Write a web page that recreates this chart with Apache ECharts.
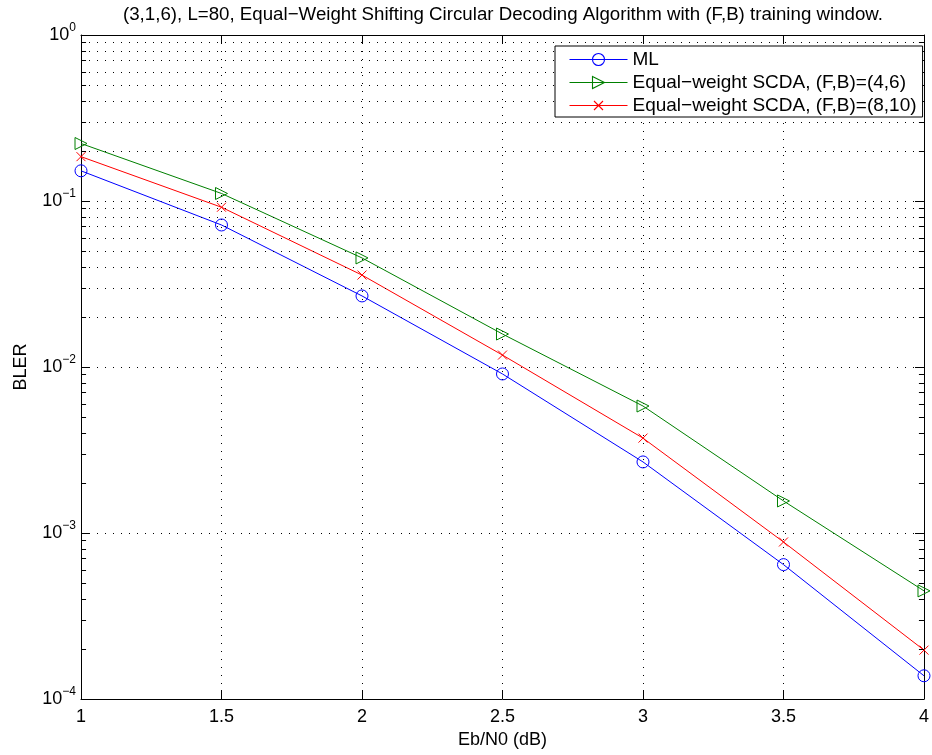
<!DOCTYPE html>
<html>
<head>
<meta charset="utf-8">
<script src="https://cdn.jsdelivr.net/npm/echarts@6/dist/echarts.min.js"></script>
<style>
    html, body { margin: 0; padding: 0; background: #fff; }
    #chart { width: 932px; height: 755px; }
</style>
</head>
<body>
<div id="chart"></div>
<script>
const FONT = '"Liberation Sans", Arial, Helvetica, sans-serif'

const ebN0 = [1, 1.5, 2, 2.5, 3, 3.5, 4]
const blerML = [0.152, 0.0717, 0.0268, 0.00908, 0.00268, 0.000645, 0.000138]
const blerSCDA46 = [0.222, 0.111, 0.0454, 0.0158, 0.00582, 0.00156, 0.000448]
const blerSCDA810 = [0.185, 0.0917, 0.0358, 0.0118, 0.00373, 0.000883, 0.000197]

const seriesNames = [
    'ML',
    'Equal\u2212weight SCDA, (F,B)=(4,6)',
    'Equal\u2212weight SCDA, (F,B)=(8,10)',
]
const seriesColors = ['#0000ff', '#008000', '#ff0000']

const yTickValues = [1e-4, 1e-3, 1e-2, 1e-1, 1]
const yTickExponents = ['\u22124', '\u22123', '\u22122', '\u22121', '0']
const yMinorTicks = [
    2e-4, 3e-4, 4e-4, 5e-4, 6e-4, 7e-4, 8e-4, 9e-4,
    2e-3, 3e-3, 4e-3, 5e-3, 6e-3, 7e-3, 8e-3, 9e-3,
    2e-2, 3e-2, 4e-2, 5e-2, 6e-2, 7e-2, 8e-2, 9e-2,
    2e-1, 3e-1, 4e-1, 5e-1, 6e-1, 7e-1, 8e-1, 9e-1,
]

// legend icons: line with the marker in the middle, 58 x 12 box
const legendIcons = [
    'path://M0,6L58,6M35,6A6,6,0,1,1,23,6A6,6,0,1,1,35,6',
    'path://M0,6L58,6M23,0L35,6L23,12Z',
    'path://M29,0L29,0M29,12L29,12M0,6L58,6M24.5,1.5L33.5,10.5M33.5,1.5L24.5,10.5',
]

const dotted = { color: '#000', width: 1, type: [1, 7] }
const solidBlack = { color: '#000', width: 1 }

const pairs = values => ebN0.map((x, i) => [x, values[i]])

const yLabel = value => {
    const i = yTickValues.findIndex(t => Math.abs(Math.log10(t) - Math.log10(value)) < 1e-6)
    return i < 0 ? '' : `{b|10}{s|${yTickExponents[i]}}`
}

const chart = echarts.init(document.getElementById('chart'))

chart.setOption({
    animation: false,
    backgroundColor: '#fff',
    textStyle: { fontFamily: FONT },
    title: {
        text: '(3,1,6), L=80, Equal\u2212Weight Shifting Circular Decoding Algorithm with (F,B) training window.',
        left: 123,
        top: 5,
        padding: 0,
        textStyle: { fontFamily: FONT, fontSize: 18.7, fontWeight: 'normal', color: '#000' },
    },
    grid: { left: 81, right: 8, top: 35, bottom: 56, containLabel: false },
    legend: {
        orient: 'vertical',
        left: 555,
        top: 46,
        z: 20,
        padding: [4, 6, 2, 12],
        itemGap: 4,
        itemWidth: 58,
        itemHeight: 12,
        symbolKeepAspect: true,
        borderColor: '#000',
        borderWidth: 1,
        borderRadius: 0,
        backgroundColor: '#fff',
        textStyle: { fontFamily: FONT, fontSize: 19, color: '#000', lineHeight: 19 },
        data: seriesNames.map((name, i) => ({
            name,
            icon: legendIcons[i],
            itemStyle: { color: 'none', borderColor: seriesColors[i], borderWidth: 1.1 },
        })),
    },
    xAxis: [
        {
            type: 'value',
            min: 1,
            max: 4,
            interval: 0.5,
            name: 'Eb/N0 (dB)',
            nameLocation: 'middle',
            nameGap: 31,
            nameTextStyle: { fontFamily: FONT, fontSize: 18, color: '#000' },
            axisLine: { onZero: false, lineStyle: solidBlack },
            axisTick: { inside: true, length: 9, lineStyle: solidBlack },
            axisLabel: { margin: 9, fontFamily: FONT, fontSize: 18, color: '#000' },
            splitLine: { show: true, lineStyle: dotted },
        },
        {
            type: 'value',
            position: 'top',
            min: 1,
            max: 4,
            interval: 0.5,
            axisLine: { onZero: false, lineStyle: solidBlack },
            axisTick: { inside: true, length: 9, lineStyle: solidBlack },
            axisLabel: { show: false },
            splitLine: { show: false },
        },
    ],
    yAxis: [
        {
            type: 'log',
            logBase: 10,
            min: 1e-4,
            max: 1,
            name: 'BLER',
            nameLocation: 'middle',
            nameGap: 51,
            nameTextStyle: { fontFamily: FONT, fontSize: 18, color: '#000' },
            axisLine: { onZero: false, lineStyle: solidBlack },
            axisTick: { inside: true, length: 9, lineStyle: solidBlack },
            axisLabel: {
                margin: 5,
                formatter: yLabel,
                rich: {
                    b: { fontFamily: FONT, fontSize: 18, color: '#000' },
                    s: { fontFamily: FONT, fontSize: 12, color: '#000', padding: [0, 0, 14, 0] },
                },
            },
            splitLine: { show: true, lineStyle: dotted },
        },
        {
            type: 'log',
            logBase: 10,
            position: 'right',
            min: 1e-4,
            max: 1,
            axisLine: { onZero: false, lineStyle: solidBlack },
            axisTick: { inside: true, length: 9, lineStyle: solidBlack },
            axisLabel: { show: false },
            splitLine: { show: false },
        },
    ],
    series: [
        {
            name: 'minor grid',
            type: 'line',
            data: [],
            silent: true,
            markLine: {
                silent: true,
                symbol: 'none',
                label: { show: false },
                lineStyle: dotted,
                data: yMinorTicks.map(v => ({ yAxis: v })),
            },
        },
        {
            name: 'minor ticks',
            type: 'line',
            data: [],
            silent: true,
            markLine: {
                silent: true,
                symbol: 'none',
                label: { show: false },
                lineStyle: { color: '#000', width: 1, type: 'solid' },
                data: [
                    ...yMinorTicks.map(v => [{ coord: [1, v] }, { coord: [1.018, v] }]),
                    ...yMinorTicks.map(v => [{ coord: [4, v] }, { coord: [3.982, v] }]),
                ],
            },
        },
        {
            name: seriesNames[0],
            type: 'line',
            data: pairs(blerML),
            clip: false,
            symbol: 'circle',
            symbolSize: 12,
            lineStyle: { color: seriesColors[0], width: 1 },
            itemStyle: { color: 'none', borderColor: seriesColors[0], borderWidth: 1 },
        },
        {
            name: seriesNames[1],
            type: 'line',
            data: pairs(blerSCDA46),
            clip: false,
            symbol: 'triangle',
            symbolRotate: -90,
            symbolSize: 12,
            lineStyle: { color: seriesColors[1], width: 1 },
            itemStyle: { color: 'none', borderColor: seriesColors[1], borderWidth: 1 },
        },
        {
            name: seriesNames[2],
            type: 'line',
            data: pairs(blerSCDA810),
            clip: false,
            symbol: 'path://M0,0L10,10M10,0L0,10',
            symbolSize: 9,
            lineStyle: { color: seriesColors[2], width: 1 },
            itemStyle: { color: 'none', borderColor: seriesColors[2], borderWidth: 1 },
        },
    ],
})
</script>
</body>
</html>
